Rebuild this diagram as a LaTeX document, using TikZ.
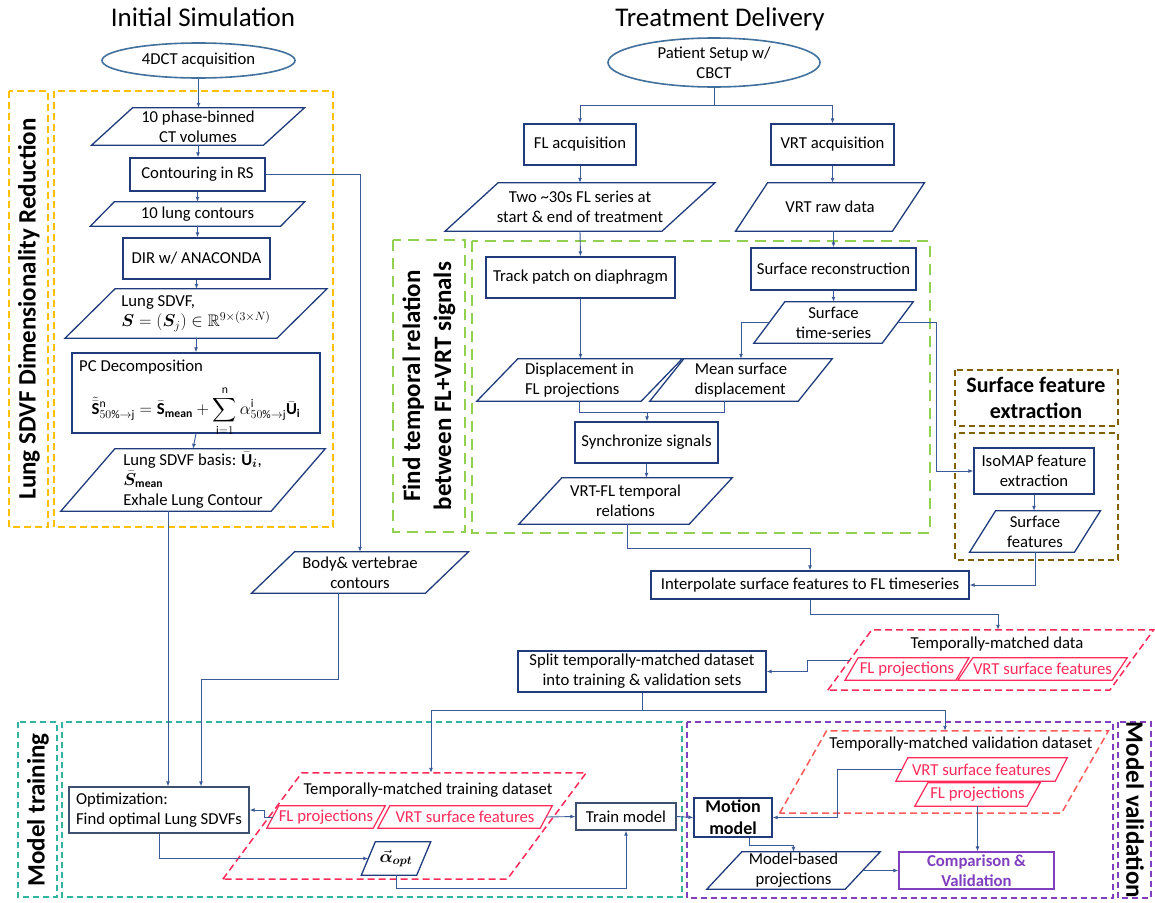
\documentclass[tikz,border=0pt]{standalone}
\usepackage{amsmath,amssymb,bm}
\usepackage{fontspec}
\setmainfont{Carlito}
\usetikzlibrary{arrows.meta,calc,shapes.geometric}
\definecolor{navy}{HTML}{203C7C}
\definecolor{slate}{HTML}{3E5070}
\definecolor{connc}{HTML}{3A5A98}
\definecolor{ellc}{HTML}{41719C}
\definecolor{yel}{HTML}{FFC000}
\definecolor{grn}{HTML}{92D050}
\definecolor{brn}{HTML}{806000}
\definecolor{tealc}{HTML}{30B4A0}
\definecolor{purp}{HTML}{7F3FBF}
\definecolor{redp}{HTML}{FF2A5A}
\definecolor{redl}{HTML}{FF5A5A}
\newcommand\fsN{\fontsize{16.7}{20}\selectfont}
\newcommand\fsT{\fontsize{27}{32}\selectfont}
\newcommand\fsL{\fontsize{25}{31}\selectfont}
\newcommand\fsS{\fontsize{22}{26}\selectfont}
\newcommand\fsM{\fontsize{18}{22}\selectfont}
% #1 node style, #2 border style, #3 name, #4 cx, #5 cy, #6 w, #7 h, #8 half slant, #9 text
\newcommand\pgram[9][]{%
  \node[ptext,minimum width=#6pt,minimum height=#7pt,#1] (#3) at (#4,#5) {#9};
  \path[#2] ($(#3.south west)+(-#8pt,0)$) -- ($(#3.north west)+(#8pt,0)$) -- ($(#3.north east)+(#8pt,0)$) -- ($(#3.south east)+(-#8pt,0)$) -- cycle;
}
\begin{document}
\begin{tikzpicture}[x=1pt,y=-1pt,
  >={Latex[length=5pt,width=4pt]},
  nbase/.style={font=\fsN, inner sep=0pt, text=black},
  nbox/.style={nbase, draw=navy, line width=1.3pt, align=center},
  ell/.style={nbase, ellipse, draw=ellc, line width=1.6pt},
  ptext/.style={nbase, align=center},
  pbord/.style={draw=navy, line width=1.3pt},
  rbord/.style={draw=redp, line width=1.2pt},
  arr/.style={draw=connc, line width=0.9pt, ->},
  lnk/.style={draw=connc, line width=0.9pt},
  ttl/.style={font=\fsT, inner sep=0pt, anchor=base},
  lbl/.style={font=\fsL\bfseries, inner sep=0pt, align=center},
  dashY/.style={draw=yel, line width=1.5pt, dash pattern=on 7pt off 4pt},
  dashG/.style={draw=grn, line width=2.8pt, dash pattern=on 11pt off 7pt},
  dashB/.style={draw=brn, line width=1.8pt, dash pattern=on 6pt off 4pt},
  dashT/.style={draw=tealc, line width=1.5pt, dash pattern=on 6pt off 4pt},
  dashP/.style={draw=purp, line width=1.8pt, dash pattern=on 6pt off 4pt},
  dashR/.style={draw=redp, line width=1.5pt, dash pattern=on 7pt off 4pt},
  dashRl/.style={draw=redl, line width=1.5pt, dash pattern=on 7pt off 4pt},
]
\fill[white] (0,0) rectangle (1155,902);
\useasboundingbox (0,0) rectangle (1155,902);

% titles
\node[ttl] (t1) at (203,27) {Initial Simulation};
\node[ttl] (t2) at (720,27) {Treatment Delivery};

% dashed group frames
\draw[dashY] (9,91) rectangle (48,527);
\draw[dashY] (54,91) rectangle (333,527);
\draw[dashG] (393,240) rectangle (465,532);
\draw[dashG] (472,241) rectangle (930,533);
\draw[dashB] (955,370) rectangle (1118,426);
\draw[dashB] (955,433) rectangle (1118,560);
\draw[dashT] (18,722) rectangle (57,897);
\draw[dashT] (62,722) rectangle (682,897);
\draw[dashP] (687,722) rectangle (1113,898);
\draw[dashP] (1118,722) rectangle (1151,898);

% group labels
\node[lbl,rotate=90] (L1) at (29,309) {Lung SDVF Dimensionality Reduction};
\node[lbl,rotate=90] (L2) at (429,386) {Find temporal relation\\between FL+VRT signals};
\node[lbl,font=\fsS\bfseries] (L3) at (1036,398) {Surface feature\\extraction};
\node[lbl,rotate=90] (L4) at (38,810) {Model training};
\node[lbl,rotate=-90] (L5) at (1135,810) {Model validation};

% left column
\node[ell,minimum width=193pt,minimum height=35pt] (ct4d) at (198.5,60.5) {4DCT acquisition};
\pgram{pbord}{phase}{198}{126.5}{171.5}{37}{20.5}{10 phase-binned\\CT volumes}
\node[nbox,minimum width=135pt,minimum height=33pt] (contour) at (197.5,174.5) {Contouring in RS};
\pgram{pbord}{lungc}{197.5}{214}{190}{24}{12}{10 lung contours}
\node[nbox,minimum width=147pt,minimum height=41pt] (dir) at (196.5,258.5) {DIR w/ ANACONDA};
\pgram[align=left]{pbord}{sdvf}{196}{313.5}{211.5}{49}{25}{Lung SDVF,\\$\bm{S}=(\bm{S}_j)\in\mathbb{R}^{9\times(3\times N)}$}
\node[nbox,minimum width=248pt,minimum height=80pt] (pcd) at (196,393) {};
\node[nbase,anchor=west] (pcdt) at (79,367) {PC Decomposition};
\node[nbase] (pcdf) at (196,411) {$\displaystyle \tilde{\bar{\mathbf{S}}}^{\mathrm{n}}_{50\%\to\mathrm{j}} = \bar{\mathbf{S}}_{\mathbf{mean}} + \sum_{\mathrm{i}=1}^{\mathrm{n}} \alpha^{\mathrm{i}}_{50\%\to\mathrm{j}}\bar{\mathbf{U}}_{\mathbf{i}}$};
\pgram[align=left]{pbord}{basis}{193}{480}{210}{62}{27}{Lung SDVF basis: $\bar{\mathbf{U}}_{\bm{i}}$,\\$\bar{\bm{S}}_{\mathbf{mean}}$\\Exhale Lung Contour}
\pgram{pbord}{body}{360}{572.5}{173.5}{41}{21.5}{Body\& vertebrae\\contours}

% right column
\node[ell,minimum width=212pt,minimum height=49pt] (patient) at (714,62.5) {};
\node[nbase,align=center] (patientl) at (patient) {Patient Setup w/\\CBCT};
\node[nbox,minimum width=112pt,minimum height=41pt] (flacq) at (580,144.5) {FL acquisition};
\node[nbox,minimum width=123pt,minimum height=41pt] (vrtacq) at (832.5,144.5) {VRT acquisition};
\pgram{pbord}{twofl}{580}{207}{216.5}{48}{26.5}{Two \textasciitilde30s FL series at\\start \& end of treatment}
\pgram{pbord}{vrtraw}{830}{207}{156.5}{48}{16}{VRT raw data}
\node[nbox,minimum width=189pt,minimum height=41pt] (track) at (580.5,277.5) {Track patch on diaphragm};
\node[nbox,minimum width=165pt,minimum height=42pt] (surfrec) at (833.5,269) {Surface reconstruction};
\pgram{pbord}{surfts}{833.5}{322.5}{128}{41}{15.5}{Surface\\time-series}
\pgram[align=left]{pbord}{dispfl}{579.5}{380}{164}{42}{20.5}{Displacement in\\FL projections}
\pgram[align=left]{pbord}{meansurf}{741}{380}{148}{42}{17}{Mean surface\\displacement}
\node[nbox,minimum width=143pt,minimum height=41pt] (sync) at (646.5,442.5) {Synchronize signals};
\pgram{pbord}{vrtfl}{625.5}{501}{170}{46}{21.5}{VRT-FL temporal\\relations}
\node[nbox,minimum width=120pt,minimum height=46pt] (isomap) at (1034,471) {IsoMAP feature\\extraction};
\pgram{pbord}{surff}{1035}{531.5}{104.5}{41}{13}{Surface\\features}
\node[nbox,minimum width=318pt,minimum height=28pt] (interp) at (810,585) {Interpolate surface features to FL timeseries};

% temporally matched data
\pgram{dashR}{tmdata}{990.75}{660}{281.5}{60}{22}{}
\node[nbase] (tmdatat) at (997,644) {Temporally-matched data};
\pgram[text=redp]{rbord}{flp1}{907}{669}{110.5}{22}{6.5}{FL projections}
\pgram[text=redp]{rbord}{vrt1}{1042.5}{669}{154}{22}{7.5}{VRT surface features}
\node[nbox,minimum width=248pt,minimum height=41pt] (split) at (642,671.5) {Split temporally-matched dataset\\into training \& validation sets};

% model training
\node[nbox,draw=slate,align=left,minimum width=180pt,minimum height=46pt] (opt) at (159,810) {Optimization:\\Find optimal Lung SDVFs};
\pgram{dashR}{trainds}{404.5}{826}{284}{106}{39.5}{}
\node[nbase] (traindst) at (428,790) {Temporally-matched training dataset};
\pgram[text=redp]{rbord}{flp2}{326}{817}{106}{22}{6}{FL projections}
\pgram[text=redp]{rbord}{vrt2}{465}{817}{162}{22}{6}{VRT surface features}
\pgram{pbord}{alpha}{396}{858.5}{55}{33}{7}{$\vec{\bm{\alpha}}_{\bm{opt}}$}
\node[nbox,draw=slate,minimum width=100pt,minimum height=27pt] (train) at (626,816.5) {Train model};

% model validation
\pgram{dashRl}{valds}{944}{772}{281.5}{82}{23.5}{}
\node[nbase] (valdst) at (961,744) {Temporally-matched validation dataset};
\pgram[text=redp]{rbord}{vrt3}{981.5}{769.5}{159}{23}{6}{VRT surface features}
\pgram[text=redp]{rbord}{flp3}{977.5}{794.5}{112}{23}{6.5}{FL projections}
\node[nbox,font=\fsM\bfseries,minimum width=78pt,minimum height=39pt] (motion) at (733,817.5) {Motion\\model};
\pgram{pbord}{mproj}{793.5}{870.5}{138}{37}{17.5}{Model-based\\projections}
\node[nbox,draw=purp,text=purp,font=\fsN\bfseries,minimum width=155pt,minimum height=37pt] (comp) at (976.5,870.5) {Comparison \&\\Validation};

% helper coordinates
\coordinate (bx) at (168,0);
\coordinate (bb) at (338,0);
\coordinate (k1) at (201,679);
\coordinate (pj) at (714,105);
\coordinate (iso1) at (936,0);
\coordinate (sy) at (647,412);
\coordinate (ms) at (724,0);
\coordinate (vi) at (627,548);
\coordinate (td) at (998,614);
\coordinate (tw) at (807,0);
\coordinate (sp) at (642,710);
\coordinate (tn) at (431,0);
\coordinate (vn) at (945,0);
\coordinate (ab) at (0,888);
\coordinate (m3) at (837,0);
\coordinate (mb) at (749,845);

% connectors: left column
\draw[arr] (ct4d.south) -- (ct4d.south |- phase.north);
\draw[arr] (phase.south) -- (phase.south |- contour.north);
\draw[arr] (contour.south) -- (contour.south |- lungc.north);
\draw[arr] (lungc.south) -- (lungc.south |- dir.north);
\draw[arr] (dir.south) -- (dir.south |- sdvf.north);
\draw[arr] (sdvf.south) -- (sdvf.south |- pcd.north);
\draw[arr] (pcd.south) -- (basis.north);
\draw[arr] (contour.east) -| (body.north);
\draw[arr] (bx |- basis.south) -- (bx |- opt.north);
\draw[arr] (bb |- body.south) -- (bb |- k1) -- (k1) -- (k1 |- opt.north);

% connectors: right column
\draw[lnk] (patient.south) -- (pj);
\draw[arr] (pj) -| (flacq.north);
\draw[arr] (pj) -| (vrtacq.north);
\draw[arr] (flacq.south) -- (twofl.north);
\draw[arr] (twofl.south) -- (track.north);
\draw[arr] (track.south) -- (track.south |- dispfl.north);
\draw[arr] (vrtacq.south) -- (vrtacq.south |- vrtraw.north);
\draw[arr] (vrtraw.south -| surfrec.north) -- (surfrec.north);
\draw[arr] (surfrec.south) -- (surfts.north);
\draw[arr] (surfts.west) -| (meansurf.north);
\draw[arr] (surfts.east) -- (iso1 |- surfts.east) -- (iso1 |- isomap.west) -- (isomap.west);
\draw[lnk] (dispfl.south) |- (sy);
\draw[lnk] (ms |- meansurf.south) |- (sy);
\draw[arr] (sy) -- (sy |- sync.north);
\draw[arr] (sync.south) -- (sync.south |- vrtfl.north);
\draw[arr] (vi |- vrtfl.south) -- (vi) -| (interp.north);
\draw[arr] (isomap.south) -- (isomap.south |- surff.north);
\draw[arr] (surff.south) |- (interp.east);
\draw[arr] (interp.south) |- (td) -- (td |- tmdata.north);
\draw[arr] (tmdata.west) -- (tw |- tmdata.west) -- (tw |- split.east) -- (split.east);
\draw[lnk] (split.south) -- (sp);
\draw[arr] (sp) -| (tn |- trainds.north);
\draw[arr] (sp) -| (vn |- valds.north);

% connectors: training
\draw[arr] (flp2.west) -- ++(-8,0) |- (opt.east);
\draw[arr] (opt.south) |- (alpha.west);
\draw[arr] (alpha.south) -- (alpha.south |- ab) -| (train.south);
\draw[arr] (vrt2.east) -- (train.west);
\draw[arr] (train.east) -- (motion.west);

% connectors: validation
\draw[arr] (vrt3.west) -- (m3 |- vrt3.west) -- (m3 |- motion.east) -- (motion.east);
\draw[arr] (flp3.south) -- (flp3.south |- comp.north);
\draw[arr] (mb |- motion.south) -- (mb) -| (mproj.north);
\draw[arr] (mproj.east) -- (comp.west);
\end{tikzpicture}
\end{document}
